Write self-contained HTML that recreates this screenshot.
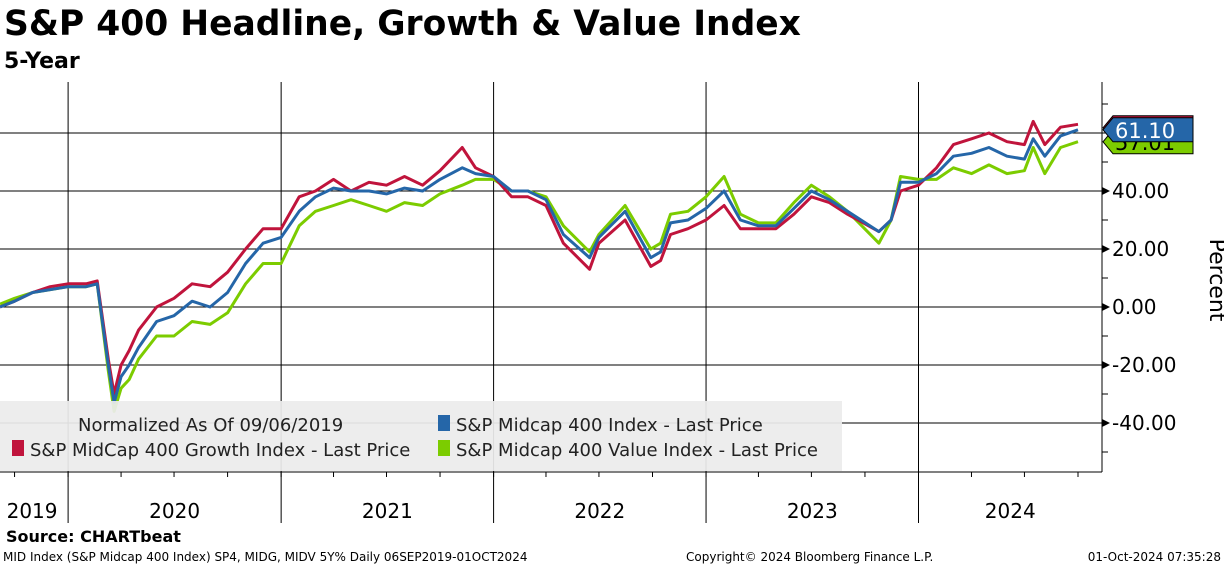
<!DOCTYPE html>
<html><head><meta charset="utf-8"><style>
body{margin:0;width:1224px;height:566px;background:#fff;overflow:hidden;font-family:"DejaVu Sans","Liberation Sans",sans-serif}
svg{position:absolute;left:0;top:0}
</style></head><body>
<svg width="1224" height="566">
<text x="4" y="35" font-size="34.5" font-weight="bold" font-family="DejaVu Sans, sans-serif">S&amp;P 400 Headline, Growth &amp; Value Index</text>
<text x="4" y="68" font-size="22" font-weight="bold">5-Year</text>
<g id="grid"></g>
<g id="series"></g>
<g id="axes"></g>
<rect x="0" y="401" width="842" height="70" fill="#ececec" opacity="0.93"/>
<text x="78" y="431" font-size="18" fill="#222">Normalized As Of 09/06/2019</text>
<rect x="12" y="440" width="12" height="16" fill="#c0143c"/>
<text x="30" y="456" font-size="18" fill="#222">S&amp;P MidCap 400 Growth Index - Last Price</text>
<rect x="438" y="415" width="12" height="16" fill="#2566a8"/>
<text x="456" y="431" font-size="18" fill="#222">S&amp;P Midcap 400 Index - Last Price</text>
<rect x="438" y="440" width="12" height="16" fill="#7ccc00"/>
<text x="456" y="456" font-size="18" fill="#222">S&amp;P Midcap 400 Value Index - Last Price</text>
<text x="1210" y="280" font-size="22" transform="rotate(90 1210 280)" text-anchor="middle">Percent</text>
<text x="6" y="542" font-size="16" font-weight="bold">Source: CHARTbeat</text>
<text x="3" y="561" font-size="12">MID Index (S&amp;P Midcap 400 Index) SP4, MIDG, MIDV 5Y%  Daily 06SEP2019-01OCT2024</text>
<text x="686" y="561" font-size="12">Copyright© 2024 Bloomberg Finance L.P.</text>
<text x="1221" y="561" font-size="12" text-anchor="end">01-Oct-2024 07:35:28</text>
</svg>
<script>
const dates=["2019-09-06","2019-10-01","2019-11-01","2019-12-01","2020-01-01","2020-02-01","2020-02-20","2020-03-10","2020-03-20","2020-04-01","2020-04-15","2020-05-01","2020-06-01","2020-07-01","2020-08-01","2020-09-01","2020-10-01","2020-11-01","2020-12-01","2021-01-01","2021-02-01","2021-03-01","2021-04-01","2021-05-01","2021-06-01","2021-07-01","2021-08-01","2021-09-01","2021-10-01","2021-11-08","2021-12-01","2022-01-01","2022-02-01","2022-03-01","2022-04-01","2022-05-01","2022-06-15","2022-07-01","2022-08-15","2022-09-28","2022-10-15","2022-11-01","2022-12-01","2023-01-01","2023-02-01","2023-03-01","2023-04-01","2023-05-01","2023-06-01","2023-07-01","2023-08-01","2023-09-01","2023-10-25","2023-11-15","2023-12-01","2024-01-01","2024-02-01","2024-03-01","2024-04-01","2024-05-01","2024-06-01","2024-07-01","2024-07-16","2024-08-05","2024-09-01","2024-10-01"];
const growth=[0,2,5,7,8,8,9,-18,-30,-20,-15,-8,0,3,8,7,12,20,27,27,38,40,44,40,43,42,45,42,47,55,48,45,38,38,35,22,13,22,30,14,16,25,27,30,35,27,27,27,32,38,36,32,26,30,40,42,48,56,58,60,57,56,64,56,62,63];
const headline=[0,2,5,6,7,7,8,-20,-33,-24,-20,-14,-5,-3,2,0,5,15,22,24,33,38,41,40,40,39,41,40,44,48,46,45,40,40,37,25,17,24,33,17,19,29,30,34,40,30,28,28,34,40,37,33,26,30,43,43,46,52,53,55,52,51,58,52,59,61.1];
const value=[1,3,5,6,7,7,8,-22,-36,-28,-25,-18,-10,-10,-5,-6,-2,8,15,15,28,33,35,37,35,33,36,35,39,42,44,44,40,40,38,28,19,25,35,20,22,32,33,38,45,32,29,29,36,42,38,33,22,30,45,44,44,48,46,49,46,47,55,46,55,57.01];
const yTicks=[-40,-20,0,20,40];
const yearLabels=["2019","2020","2021","2022","2023","2024"];
const t0=Date.parse("2019-09-06"),pxPerDay=212.6/365.25;
function xs(d){return (Date.parse(d)-t0)/86400000*pxPerDay;}
function ys(v){return 307-v*2.9;}
const NS="http://www.w3.org/2000/svg";
function mk(tag,attrs,parent){const e=document.createElementNS(NS,tag);for(const k in attrs)e.setAttribute(k,attrs[k]);parent.appendChild(e);return e;}
const grid=document.getElementById('grid'),ax=document.getElementById('axes'),ser=document.getElementById('series');
[...yTicks,60].forEach(v=>{const l=mk('line',{x1:0,x2:1102,y1:ys(v),y2:ys(v),stroke:'#000','stroke-width':1},grid);

});
for(let yr=2020;yr<=2024;yr++){const x=xs(yr+"-01-01");
const l=mk('line',{x1:x,x2:x,y1:82,y2:523,stroke:'#000','stroke-width':1},grid);

}
mk('line',{x1:0,x2:1102,y1:472,y2:472,stroke:'#000'},ax);
mk('line',{x1:1102,x2:1102,y1:82,y2:472,stroke:'#000'},ax);
for(let v=-50;v<=70;v+=10){mk('line',{x1:1102,x2:1108,y1:ys(v),y2:ys(v),stroke:'#000'},ax);}
yTicks.forEach(v=>{const t=mk('text',{x:1112,y:ys(v)+7,'font-size':20},ax);t.textContent=v.toFixed(2);


mk('path',{d:`M1102 ${ys(v)-4}L1110 ${ys(v)}L1102 ${ys(v)+4}Z`,fill:'#000'},ax);});
for(let yr=2019;yr<=2024;yr++)for(let m of [1,4,7,10]){const d=`${yr}-${String(m).padStart(2,'0')}-01`;const x=xs(d);if(x<0||x>1100)continue;mk('line',{x1:x,x2:x,y1:472,y2:477,stroke:'#000'},ax);}
yearLabels.forEach((y,i)=>{const a=Math.max(0,xs(y+"-01-01")),b=Math.min(1102,xs((+y+1)+"-01-01"));
const t=mk('text',{x:(a+b)/2+(i==0?-2:0),y:518,'font-size':20,'text-anchor':'middle'},ax);t.textContent=y;

});
function line(arr,color,name){const p=mk('polyline',{points:arr.map((v,i)=>xs(dates[i]).toFixed(1)+','+ys(v).toFixed(1)).join(' '),fill:'none',stroke:color,'stroke-width':3,'stroke-linejoin':'round'},ser);

}
line(value,'#7ccc00','series-value');
line(growth,'#c0143c','series-growth');
line(headline,'#2566a8','series-headline');
function tag(y,label,color,txtColor,name){
const g=mk('g',{},ax);


mk('path',{d:`M1103 ${y}L1113 ${y-12}L1193 ${y-12}L1193 ${y+12}L1113 ${y+12}Z`,fill:color,stroke:'#000'},g);
const t=mk('text',{x:1115,y:y+8,'font-size':21,fill:txtColor},g);t.textContent=label;}
const yb=ys(headline[headline.length-1]);
tag(yb-2,growth[growth.length-1].toFixed(2),'#c0143c','#fff','last-value-growth');
tag(yb+12,value[value.length-1].toFixed(2),'#7ccc00','#000','last-value-value');
tag(yb,headline[headline.length-1].toFixed(2),'#2566a8','#fff','last-value-headline');
</script>
</body></html>
